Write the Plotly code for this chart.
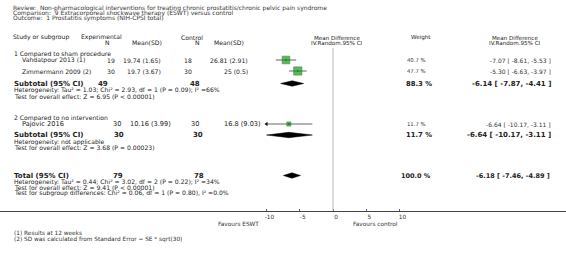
import plotly.graph_objects as go

# ---------------- data ----------------
title_lines = [
    "Review:  Non-pharmacological interventions for treating chronic prostatitis/chronic pelvic pain syndrome",
    "Comparison:  9 Extracorporeal shockwave therapy (ESWT) versus control",
    "Outcome:  1 Prostatitis symptoms (NIH-CPSI total)",
]
group_names = ["1 Compared to sham procedure", "2 Compared to no intervention"]
studies = ["Vahdatpour 2013 (1)", "Zimmermann 2009 (2)", "Pajovic 2016"]
study_group = [0, 0, 1]
exp_n = [19, 30, 30]
exp_msd = ["19.74 (1.65)", "19.7 (3.67)", "10.16 (3.99)"]
ctl_n = [18, 30, 30]
ctl_msd = ["26.81 (2.91)", "25 (0.5)", "16.8 (9.03)"]
md = [-7.07, -5.30, -6.64]
md_lo = [-8.61, -6.63, -10.17]
md_hi = [-5.53, -3.97, -3.11]
weight = [40.7, 47.7, 11.7]

sub_exp_n = [49, 30]
sub_ctl_n = [48, 30]
sub_md = [-6.14, -6.64]
sub_lo = [-7.87, -10.17]
sub_hi = [-4.41, -3.11]
sub_w = [88.3, 11.7]
sub_het = ["Heterogeneity: Tau² = 1.03; Chi² = 2.93, df = 1 (P = 0.09); I² =66%",
           "Heterogeneity: not applicable"]
sub_test = ["Test for overall effect: Z = 6.95 (P < 0.00001)",
            "Test for overall effect: Z = 3.68 (P = 0.00023)"]

tot_exp_n, tot_ctl_n = 79, 78
tot_md, tot_lo, tot_hi, tot_w = -6.18, -7.46, -4.89, 100.0
tot_lines = ["Heterogeneity: Tau² = 0.44; Chi² = 3.02, df = 2 (P = 0.22); I² =34%",
             "Test for overall effect: Z = 9.41 (P < 0.00001)",
             "Test for subgroup differences: Chi² = 0.06, df = 1 (P = 0.80), I² =0.0%"]
tick_vals = [-10, -5, 0, 5, 10]
tick_text = ["-10", "-5", "0", "5", "10"]
axis_min, axis_max = -10, 10
favours = ["Favours ESWT", "Favours control"]
footnotes = ["(1) Results at 12 weeks", "(2) SD was calculated from Standard Error = SE * sqrt(30)"]

# ---------------- layout (pixel positions) ----------------
W, H = 566, 256
X0_PX, PX_PER_UNIT = 333, 6.65
AXIS_Y = 211
FONT = "DejaVu Sans"
BODY = 6.1
study_y = [60, 71, 124]
group_y = [54, 118]
sub_y = [83.5, 135]
het_y = [90, 141.5]
test_y = [96, 147.5]
tot_y = 175.5
tot_line_y = [182, 187.5, 193]

fig = go.Figure()
ann = []


def txt(x, y, s, size=BODY, bold=False, anchor="left", color="#222"):
    if bold:
        s = "<b>" + s + "</b>"
    ann.append(dict(x=x / W, xref="paper", y=y, yref="y", text=s, showarrow=False,
                    xanchor=anchor, yanchor="middle", borderpad=0,
                    font=dict(family=FONT, size=size, color=color)))


# titles
for i, t in enumerate(title_lines):
    txt(12, 7.5 + 5.3 * i, t, size=6.0, color="#333")

# header
txt(12, 37, "Study or subgroup")
txt(101, 37, "Experimental", anchor="center")
txt(107, 42.5, "N", anchor="center")
txt(147, 42.5, "Mean(SD)", anchor="center")
txt(192, 37, "Control", anchor="center")
txt(197, 42.5, "N", anchor="center")
txt(229, 42.5, "Mean(SD)", anchor="center")
txt(337, 37.5, "Mean Difference", anchor="center", size=5.6)
txt(337, 42.5, "IV.Random.95% CI", anchor="center", size=5.6)
txt(421, 37.5, "Weight", anchor="center", size=5.6)
txt(515, 37.5, "Mean Difference", anchor="center", size=5.6)
txt(515, 42.5, "IV.Random.95% CI", anchor="center", size=5.6)

for g, name in enumerate(group_names):
    txt(13, group_y[g], name)

# study rows
for i, s in enumerate(studies):
    y = study_y[i]
    big = study_group[i] == 1
    fs = 6.6 if big else BODY
    txt(21, y, s, size=fs)
    txt(122 if big else 116, y, str(exp_n[i]), size=fs, anchor="right")
    txt(172 if big else 162, y, exp_msd[i], size=fs, anchor="right")
    txt(200 if big else 193, y, str(ctl_n[i]), size=fs, anchor="right")
    txt(262 if big else 249, y, ctl_msd[i], size=fs, anchor="right")
    txt(427, y, f"{weight[i]:.1f} %", size=5.3, anchor="right", color="#333")
    txt(552, y, f"{md[i]:.2f} [ {md_lo[i]:.2f}, {md_hi[i]:.2f} ]", size=6.0,
        anchor="right", color="#333")

# subtotals
for g in range(2):
    y = sub_y[g]
    txt(13, y, "Subtotal (95% CI)", size=7, bold=True)
    txt(97 if g == 0 else 113, y, str(sub_exp_n[g]), size=7, bold=True)
    txt(189 if g == 0 else 192, y, str(sub_ctl_n[g]), size=7, bold=True)
    txt(433, y, f"{sub_w[g]:.1f} %", size=6.8, bold=True, anchor="right")
    txt(552, y, f"{sub_md[g]:.2f} [ {sub_lo[g]:.2f}, {sub_hi[g]:.2f} ]", size=7,
        bold=True, anchor="right")
    txt(13, het_y[g], sub_het[g])
    txt(13, test_y[g], sub_test[g])

# total
txt(13, tot_y, "Total (95% CI)", size=7, bold=True)
txt(112, tot_y, str(tot_exp_n), size=7, bold=True)
txt(193, tot_y, str(tot_ctl_n), size=7, bold=True)
txt(432, tot_y, f"{tot_w:.1f} %", size=6.5, bold=True, anchor="right")
txt(551, tot_y, f"{tot_md:.2f} [ {tot_lo:.2f}, {tot_hi:.2f} ]", size=6.5, bold=True,
    anchor="right")
for k, t in enumerate(tot_lines):
    txt(13, tot_line_y[k], t)

# favours / footnotes
txt(238, 223.5, favours[0], anchor="center", size=5.8, color="#333")
txt(375, 223.5, favours[1], anchor="center", size=5.8, color="#333")
txt(13, 233, footnotes[0], size=5.8, color="#333")
txt(13, 239.5, footnotes[1], size=5.8, color="#333")

# ---------------- marks ----------------
for i in range(len(studies)):
    lo = max(md_lo[i], axis_min)
    hi = min(md_hi[i], axis_max)
    fig.add_trace(go.Scatter(x=[lo, hi], y=[study_y[i], study_y[i]], mode="lines",
                             line=dict(color="#666", width=1), hoverinfo="skip"))
    if md_lo[i] < axis_min:
        fig.add_trace(go.Scatter(x=[axis_min], y=[study_y[i]], mode="markers",
                                 marker=dict(symbol="triangle-left", size=4, color="#111"),
                                 hoverinfo="skip"))

fig.add_trace(go.Scatter(
    x=md, y=study_y, mode="markers",
    marker=dict(symbol="square", size=[1.2 * w ** 0.5 for w in weight],
                color="#169a16", line=dict(color="#0b5a0b", width=0.6)),
    hoverinfo="skip"))
fig.add_trace(go.Scatter(x=md, y=study_y, mode="markers",
                         marker=dict(symbol="circle", size=1.5, color="#063"),
                         hoverinfo="skip"))


def diamond(c, lo, hi, y, h=2.7):
    fig.add_trace(go.Scatter(x=[lo, c, hi, c, lo], y=[y, y - h, y, y + h, y],
                             mode="lines", fill="toself", fillcolor="#000",
                             line=dict(color="#000", width=0.5), hoverinfo="skip"))


for g in range(2):
    diamond(sub_md[g], max(sub_lo[g], axis_min), sub_hi[g], sub_y[g])
diamond(tot_md, tot_lo, tot_hi, tot_y)

fig.add_shape(type="line", xref="x", yref="y", x0=0, x1=0, y0=48, y1=AXIS_Y,
              line=dict(color="#bbb", width=1))

x_lo = (0 - X0_PX) / PX_PER_UNIT
x_hi = (W - X0_PX) / PX_PER_UNIT

fig.update_layout(
    width=W, height=H, margin=dict(l=0, r=0, t=0, b=0),
    paper_bgcolor="white", plot_bgcolor="white", showlegend=False,
    annotations=ann, hovermode=False,
    xaxis=dict(range=[x_lo, x_hi], domain=[0, 1], anchor="free",
               position=(H - AXIS_Y) / H, showline=True, linecolor="#444", linewidth=1,
               showgrid=False, zeroline=False, tickvals=tick_vals, ticktext=tick_text,
               ticks="inside", ticklen=2, tickcolor="#666",
               tickfont=dict(family=FONT, size=5.8, color="#333"),
               ticklabelshift=3, ticklabelstandoff=0),
    yaxis=dict(range=[H, 0], domain=[0, 1], visible=False, showgrid=False,
               zeroline=False),
)

fig.write_html("out.html", config={"displayModeBar": False, "staticPlot": True},
               post_script="document.body.style.margin='0';document.body.style.overflow='hidden';")
